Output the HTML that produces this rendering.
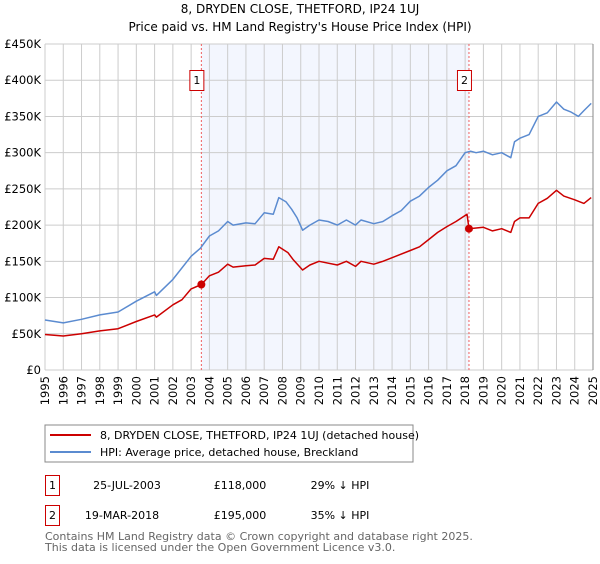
<!DOCTYPE html>
<html><head><meta charset="utf-8"><style>
body{margin:0;background:#fff;width:600px;height:560px;overflow:hidden;font-family:"DejaVu Sans","Liberation Sans",sans-serif}
svg text{font-family:"DejaVu Sans","Liberation Sans",sans-serif}
</style></head><body>
<svg id="c" width="600" height="560">
<text x="300" y="13" text-anchor="middle" font-size="12">8, DRYDEN CLOSE, THETFORD, IP24 1UJ</text>
<text x="300" y="31" text-anchor="middle" font-size="12">Price paid vs. HM Land Registry's House Price Index (HPI)</text>
<g id="plot"></g>
<rect x="45" y="425" width="368" height="37" fill="#fff" stroke="#888"/>
<line x1="50" y1="435" x2="91" y2="435" stroke="#cc0000" stroke-width="2"/>
<text x="100" y="439" font-size="11">8, DRYDEN CLOSE, THETFORD, IP24 1UJ (detached house)</text>
<line x1="50" y1="452" x2="91" y2="452" stroke="#5b8bd0" stroke-width="2"/>
<text x="100" y="456" font-size="11">HPI: Average price, detached house, Breckland</text>
<g font-size="11">
<rect x="45.5" y="475.5" width="14" height="20" fill="none" stroke="#cc0000"/>
<text x="52.5" y="489" text-anchor="middle">1</text>
<text x="127" y="489" text-anchor="middle">25-JUL-2003</text>
<text x="240" y="489" text-anchor="middle">£118,000</text>
<text x="340" y="489" text-anchor="middle">29% ↓ HPI</text>
<rect x="45.5" y="505.5" width="14" height="20" fill="none" stroke="#cc0000"/>
<text x="52.5" y="519" text-anchor="middle">2</text>
<text x="122" y="519" text-anchor="middle">19-MAR-2018</text>
<text x="240" y="519" text-anchor="middle">£195,000</text>
<text x="340" y="519" text-anchor="middle">35% ↓ HPI</text>
</g>
<text x="45" y="540" font-size="11" fill="#666">Contains HM Land Registry data © Crown copyright and database right 2025.</text>
<text x="45" y="551" font-size="11" fill="#666">This data is licensed under the Open Government Licence v3.0.</text>
</svg>
<script>
const hpiYears=[1995,1996,1997,1998,1999,2000,2001,2001.1,2002,2003,2003.5,2004,2004.5,2005,2005.3,2006,2006.5,2007,2007.5,2007.8,2008.2,2008.5,2008.8,2009.1,2009.5,2010,2010.5,2011,2011.5,2012,2012.3,2013,2013.5,2014,2014.5,2015,2015.5,2016,2016.5,2017,2017.5,2018,2018.3,2018.6,2019,2019.5,2020,2020.5,2020.7,2021,2021.5,2022,2022.5,2023,2023.4,2023.8,2024.2,2024.5,2024.9];
const hpiValues=[69,65,70,76,80,95,108,103,125,157,168,185,192,205,200,203,202,217,215,238,232,222,210,193,200,207,205,200,207,200,207,202,205,213,220,233,240,252,262,275,282,300,302,300,302,297,300,293,315,320,325,350,355,370,360,356,350,358,368];
const priceYears=[1995,1996,1997,1998,1999,2000,2001,2001.1,2002,2002.5,2003,2003.56,2004,2004.5,2005,2005.3,2006,2006.5,2007,2007.5,2007.8,2008.3,2008.6,2009.1,2009.5,2010,2011,2011.5,2012,2012.3,2013,2013.5,2014,2015,2015.5,2016,2016.5,2017,2017.5,2018.1,2018.21,2019,2019.5,2020,2020.5,2020.7,2021,2021.5,2022,2022.5,2023,2023.4,2024,2024.5,2024.9];
const priceValues=[49,47,50,54,57,67,76,73,90,97,112,118,130,135,146,142,144,145,154,153,170,162,152,138,145,150,145,150,143,150,146,150,155,165,170,180,190,198,205,215,195,197,192,195,190,205,210,210,230,237,248,240,235,230,238];
const saleYears=[2003.56,2018.21];
const saleValues=[118,195];
const yTicks=[0,50,100,150,200,250,300,350,400,450];
const yTickLabels=["£0","£50K","£100K","£150K","£200K","£250K","£300K","£350K","£400K","£450K"];
const xTicks=[1995,1996,1997,1998,1999,2000,2001,2002,2003,2004,2005,2006,2007,2008,2009,2010,2011,2012,2013,2014,2015,2016,2017,2018,2019,2020,2021,2022,2023,2024,2025];

const X0=45,X1=593,Y0=370,Y1=44;
const xs=v=>X0+(v-1995)/30*(X1-X0);
const ys=v=>Y0-v/450*(Y0-Y1);
const NS="http://www.w3.org/2000/svg";
const g=document.getElementById('plot');
function mk(t,a){const e=document.createElementNS(NS,t);for(const k in a)e.setAttribute(k,a[k]);g.appendChild(e);return e;}

const shade=mk('rect',{x:xs(saleYears[0]),y:Y1,width:xs(saleYears[1])-xs(saleYears[0]),height:Y0-Y1,fill:'#f3f6fe'});


yTicks.forEach((v,i)=>{
 const l=mk('line',{x1:X0,x2:X1,y1:ys(v),y2:ys(v),stroke:'#ccc'});
 
 
 const t=mk('text',{x:X0-4,y:ys(v)+4,'text-anchor':'end','font-size':'11.5'});
 t.textContent=yTickLabels[i];
 
 
});
xTicks.forEach(v=>{
 const l=mk('line',{x1:xs(v),x2:xs(v),y1:Y1,y2:Y0,stroke:'#ccc'});
 
 
 const t=mk('text',{x:0,y:0,'text-anchor':'end','font-size':'11.5',transform:`translate(${xs(v)+4},${Y0+6}) rotate(-90)`});
 t.textContent=v;
 
 
});
const rb=mk('line',{x1:X1,x2:X1,y1:Y1,y2:Y0,stroke:'#888'});


saleYears.forEach((v,i)=>{
 const l=mk('line',{x1:xs(v),x2:xs(v),y1:Y1,y2:Y0,stroke:'#f06060','stroke-dasharray':'2,2'});
 
 
 const r=mk('rect',{x:xs(v)-11.5,y:70.5,width:14,height:20,fill:'#fff',stroke:'#cc0000'});
 
 
 const t=mk('text',{x:xs(v)-4.5,y:84,'text-anchor':'middle','font-size':'11'});
 t.textContent=String(i+1);
 
 
});
function line(xa,va,col,name){
 const p=mk('polyline',{points:xa.map((x,i)=>xs(x).toFixed(1)+','+ys(va[i]).toFixed(1)).join(' '),fill:'none',stroke:col,'stroke-width':1.5,'stroke-linejoin':'round'});
 
 
}
line(hpiYears,hpiValues,'#5b8bd0','hpi-line');
line(priceYears,priceValues,'#cc0000','price-paid-line');
saleYears.forEach((v,i)=>{
 const c=mk('circle',{cx:xs(v),cy:ys(saleValues[i]),r:4,fill:'#cc0000'});
 
 
});
</script>
</body></html>
